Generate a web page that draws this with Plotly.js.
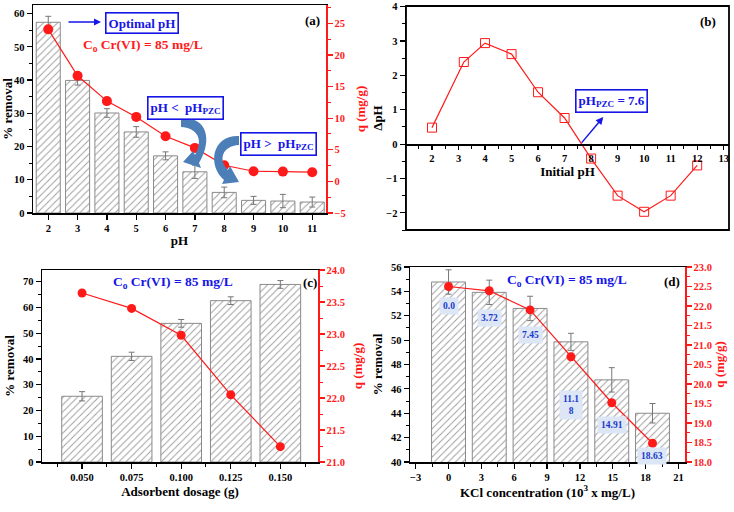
<!DOCTYPE html>
<html><head><meta charset="utf-8">
<script src="https://cdn.plot.ly/plotly-3.0.1.min.js"></script>
<style>html,body{margin:0;padding:0;background:#fff}</style>
</head><body><div id="chart" style="width:734px;height:512px"></div>
<script>
// ---------- data ----------
// (a) effect of pH
const phA = [2, 3, 4, 5, 6, 7, 8, 9, 10, 11];
const removalA = [57.4, 39.9, 30.1, 24.4, 17.2, 12.4, 6.2, 3.8, 3.6, 3.3];
const removalErrA = [1.8, 1.4, 1.3, 1.6, 1.2, 2.0, 1.6, 1.2, 2.0, 1.5];
const qA = [24.05, 16.7, 12.7, 10.2, 7.15, 5.3, 2.55, 1.6, 1.55, 1.45];
// (b) point of zero charge
const phInitB = [2, 3.2, 4, 5, 6, 7, 8, 9, 10, 11, 12];
const deltaPhB = [0.48, 2.39, 2.94, 2.62, 1.51, 0.76, -0.42, -1.5, -1.97, -1.5, -0.62];
const pzcB = 7.6;
// (c) adsorbent dosage
const dosageC = [0.05, 0.075, 0.1, 0.125, 0.15];
const removalC = [25.5, 41.0, 53.8, 62.6, 68.9];
const removalErrC = [1.8, 1.6, 1.5, 1.5, 1.5];
const qC = [23.64, 23.4, 22.98, 22.05, 21.24];
// (d) KCl concentration
const kclD = [0, 3.72, 7.45, 11.18, 14.91, 18.63];
const kclLabelsD = ['0.0', '3.72', '7.45', '11.1<br>8', '14.91', '18.63'];
const removalD = [54.77, 53.92, 52.6, 49.86, 46.74, 44.0];
const removalErrD = [1.0, 1.0, 1.0, 0.7, 1.0, 0.8];
const qD = [22.5, 22.39, 21.9, 20.7, 19.52, 18.48];

// ---------- helpers ----------
const W = 734, H = 512;
const px = x => x / W;
const py = y => 1 - y / H;
const FONT = 'Liberation Serif';
const RED = '#ff1a1a';
const BLUE = '#1515e8';

function barTrace(x, y, err, width, xa, ya) {
  return {
    type: 'bar', x: x, y: y, width: width, xaxis: xa, yaxis: ya,
    marker: {
      color: 'white',
      line: {color: '#8a8a8a', width: 1},
      pattern: {shape: '/', fgcolor: '#9a9a9a', bgcolor: 'white', size: 5, solidity: 0.18}
    },
    error_y: {type: 'data', array: err, visible: true, color: '#777', thickness: 1, width: 3},
    showlegend: false, hoverinfo: 'skip'
  };
}
function lineTrace(x, y, xa, ya, size) {
  return {
    type: 'scatter', mode: 'lines+markers', x: x, y: y, xaxis: xa, yaxis: ya,
    line: {color: RED, width: 1.2},
    marker: {color: RED, size: size, symbol: 'circle'},
    showlegend: false, hoverinfo: 'skip'
  };
}
function tickFont(color) { return {family: FONT, size: 10.5, weight: 700, color: color || 'black'}; }
function titleObj(text, color, standoff) {
  return {text: text, font: {family: FONT, size: 13, weight: 700, color: color || 'black'}, standoff: standoff};
}
function leftAx(domain, range, dtick, minor, title, anchor, standoff, fmt) {
  return {
    domain: domain, range: range, anchor: anchor, dtick: dtick, tick0: 0,
    showline: true, linecolor: 'black', linewidth: 1.5, mirror: false,
    ticks: 'outside', ticklen: 5, tickwidth: 1.2, tickcolor: 'black',
    minor: minor ? {dtick: minor, ticklen: 3, tickwidth: 1, tickcolor: 'black', ticks: 'outside'} : undefined,
    showgrid: false, zeroline: false, tickfont: tickFont(), tickformat: fmt,
    title: titleObj(title, 'black', standoff)
  };
}
function rightAx(over, range, dtick, minor, title, anchor, standoff, fmt) {
  return {
    overlaying: over, side: 'right', range: range, anchor: anchor, dtick: dtick, tick0: 0,
    showline: true, linecolor: RED, linewidth: 1.5,
    ticks: 'outside', ticklen: 5, tickwidth: 1.2, tickcolor: RED,
    minor: {dtick: minor, ticklen: 3, tickwidth: 1, tickcolor: RED, ticks: 'outside'},
    showgrid: false, zeroline: false, tickfont: tickFont(RED), tickformat: fmt,
    title: titleObj(title, RED, standoff)
  };
}
function bottomAx(domain, range, dtick, tick0, minor, title, anchor, standoff, fmt) {
  return {
    domain: domain, range: range, anchor: anchor, dtick: dtick, tick0: tick0,
    showline: true, linecolor: 'black', linewidth: 1.5, mirror: true,
    ticks: 'outside', ticklen: 5, tickwidth: 1.2, tickcolor: 'black',
    minor: minor ? {dtick: minor, ticklen: 3, tickwidth: 1, tickcolor: 'black', ticks: 'outside'} : undefined,
    showgrid: false, zeroline: false, tickfont: tickFont(), tickformat: fmt,
    title: titleObj(title, 'black', standoff)
  };
}

// panel placement (pixels -> paper)
const domA = {x: [px(33), px(326)], y: [py(213), py(5)]};
const domB = {x: [px(406), px(729)], y: [py(230), py(6)]};
const domC = {x: [px(42), px(318)], y: [py(462), py(270)]};
const domD = {x: [px(410), px(685)], y: [py(462), py(267)]};

const rangeBy = [-2.5, 4.02];
const zeroPos = domB.y[0] + (0 - rangeBy[0]) / (rangeBy[1] - rangeBy[0]) * (domB.y[1] - domB.y[0]);

const traces = [
  barTrace(phA, removalA, removalErrA, 0.82, 'x', 'y'),
  lineTrace(phA, qA, 'x', 'y2', 10),
  {
    type: 'scatter', mode: 'lines+markers', x: phInitB, y: deltaPhB, xaxis: 'x2', yaxis: 'y3',
    line: {color: RED, width: 1.2},
    marker: {symbol: 'square-open', size: 9, color: RED, line: {width: 1, color: RED}},
    showlegend: false, hoverinfo: 'skip'
  },
  barTrace(dosageC, removalC, removalErrC, 0.0205, 'x3', 'y4'),
  lineTrace(dosageC, qC, 'x3', 'y5', 9),
  barTrace(kclD, removalD, removalErrD, 3.1, 'x4', 'y6'),
  lineTrace(kclD, qD, 'x4', 'y7', 9)
];

// curved arrows (panel a), pixel coordinates converted to paper
function pathFrom(cmds) {
  return cmds.map(c => c[0] + ' ' + c.slice(1).map(p => px(p[0]).toFixed(5) + ',' + py(p[1]).toFixed(5)).join(' ')).join(' ') + ' Z';
}
const arrow1 = pathFrom([
  ['M', [181, 119]], ['C', [203, 115], [215, 136], [199, 163]],
  ['L', [201, 168]], ['L', [183, 162]], ['L', [193, 151]], ['L', [195, 155]],
  ['C', [204, 139], [197, 128], [181, 127]]
]);
const arrow2 = pathFrom([
  ['M', [239, 136]], ['C', [212, 135], [207, 165], [224, 180]],
  ['L', [222, 184]], ['L', [239, 182]], ['L', [230, 166]], ['L', [228, 170]],
  ['C', [218, 160], [222, 146], [239, 145]]
]);

function boxNote(x, y, text, size) {
  return {xref: 'paper', yref: 'paper', x: px(x), y: py(y), xanchor: 'center', yanchor: 'middle',
    text: text, showarrow: false,
    font: {family: FONT, size: size || 13, weight: 700, color: BLUE},
    bordercolor: BLUE, borderwidth: 1.6, borderpad: 2, bgcolor: 'white'};
}
function plainNote(x, y, text, color, size) {
  return {xref: 'paper', yref: 'paper', x: px(x), y: py(y), xanchor: 'center', yanchor: 'middle',
    text: text, showarrow: false,
    font: {family: FONT, size: size || 13, weight: 700, color: color}};
}

const labelPosY = [52.8, 51.8, 50.4, 44.7, 43.0, 40.5];
const kclNotes = kclD.map((k, i) => ({
  xref: 'x4', yref: 'y6', x: k, y: labelPosY[i], xanchor: 'center', yanchor: 'middle',
  text: kclLabelsD[i], showarrow: false,
  font: {family: FONT, size: 9.5, weight: 700, color: '#1a3acc'},
  bgcolor: '#dce6f5', borderpad: 3
}));

const annotations = [
  plainNote(312, 20, '(a)', 'black', 13),
  boxNote(141.5, 22.5, 'Optimal pH'),
  {xref: 'paper', yref: 'paper', x: px(101), y: py(22), ax: -34, ay: 0, text: '',
    showarrow: true, arrowcolor: BLUE, arrowwidth: 1.4, arrowhead: 2, arrowsize: 1},
  plainNote(143, 45, 'C<sub>o</sub> Cr(VI) = 85 mg/L', RED, 13.5),
  boxNote(185.5, 107.5, 'pH &lt;  pH<sub>PZC</sub>'),
  boxNote(278.5, 143.5, 'pH &gt;  pH<sub>PZC</sub>'),
  plainNote(708, 21, '(b)', 'black', 13),
  boxNote(611, 101, 'pH<sub>PZC</sub> = 7.6'),
  {xref: 'x2', yref: 'y3', x: 8.46, y: 0.79, axref: 'x2', ayref: 'y3', ax: pzcB, ay: 0, text: '',
    showarrow: true, arrowcolor: BLUE, arrowwidth: 1.5, arrowhead: 2, arrowsize: 1},
  plainNote(310, 282, '(c)', 'black', 13),
  plainNote(173, 282, 'C<sub>o</sub> Cr(VI) = 85 mg/L', BLUE, 13.5),
  plainNote(672, 281, '(d)', 'black', 13),
  plainNote(567, 280, 'C<sub>o</sub> Cr(VI) = 85 mg/L', BLUE, 13.5)
].concat(kclNotes);

const layout = {
  width: W, height: H, margin: {l: 0, r: 0, t: 0, b: 0},
  paper_bgcolor: 'white', plot_bgcolor: 'rgba(0,0,0,0)',
  showlegend: false, font: {family: FONT},
  // (a)
  xaxis: bottomAx(domA.x, [1.48, 11.47], 1, 0, null, 'pH', 'y', 3),
  yaxis: leftAx(domA.y, [0, 62.6], 10, 5, '% removal', 'x', 5),
  yaxis2: rightAx('y', [-5, 27.9], 5, 2.5, 'q (mg/g)', 'x', 11),
  // (b)
  xaxis2: {
    domain: domB.x, range: [1.02, 13.2], anchor: 'free', position: zeroPos, dtick: 1, tick0: 0,
    showline: true, linecolor: 'black', linewidth: 1.5,
    ticks: 'outside', ticklen: 4, tickwidth: 1.2, tickcolor: 'black',
    minor: {dtick: 0.5, ticklen: 3, tickwidth: 1, tickcolor: 'black', ticks: 'outside'},
    showgrid: false, zeroline: false, tickfont: tickFont(),
    title: titleObj('Initial pH', 'black', 2)
  },
  yaxis3: leftAx(domB.y, rangeBy, 1, 0.5, 'ΔpH', 'x2', 0),
  // (c)
  xaxis3: bottomAx(domC.x, [0.0298, 0.169], 0.025, 0, 0.0125, 'Adsorbent dosage (g)', 'y4', 5, '.3f'),
  yaxis4: leftAx(domC.y, [0, 74.5], 10, 5, '% removal', 'x3', 5),
  yaxis5: rightAx('y4', [21, 24], 0.5, 0.25, 'q (mg/g)', 'x3', 9, '.1f'),
  // (d)
  xaxis4: bottomAx(domD.x, [-3.52, 21.6], 3, 0, 1.5, 'KCl concentration (10<sup>3</sup> x mg/L)', 'y6', 5),
  yaxis6: leftAx(domD.y, [40, 56], 2, 1, '% removal', 'x4', 5),
  yaxis7: rightAx('y6', [18, 23], 0.5, 0.25, 'q (mg/g)', 'x4', 2, '.1f'),
  annotations: annotations,
  shapes: [
    {type: 'rect', xref: 'x2 domain', yref: 'y3 domain', x0: 0, x1: 1, y0: 0, y1: 1,
      line: {color: 'black', width: 1.8}},
    {type: 'path', xref: 'paper', yref: 'paper', path: arrow1, fillcolor: '#4c7fb8', line: {width: 0}},
    {type: 'path', xref: 'paper', yref: 'paper', path: arrow2, fillcolor: '#4c7fb8', line: {width: 0}}
  ]
};

Plotly.newPlot('chart', traces, layout, {staticPlot: true, displayModeBar: false});
</script></body></html>
